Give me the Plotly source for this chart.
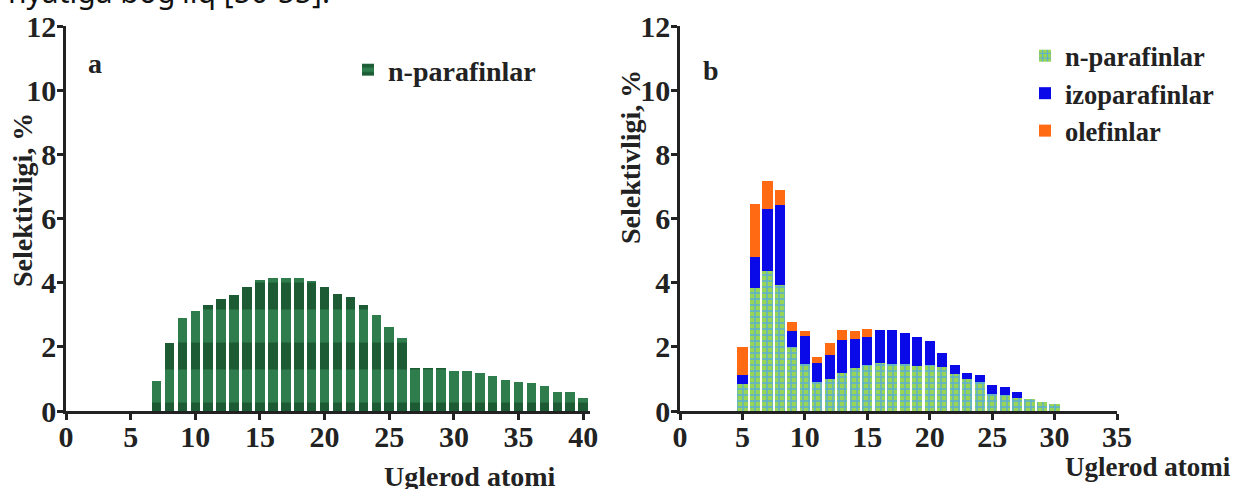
import plotly.graph_objects as go

# ---------------- data ----------------
atoms_a = list(range(7, 41))
npar_a = [0.93, 2.13, 2.90, 3.11, 3.29, 3.48, 3.63, 3.86, 4.07, 4.14, 4.14, 4.14,
          4.05, 3.86, 3.66, 3.55, 3.30, 2.98, 2.62, 2.26, 1.33, 1.33, 1.33, 1.25,
          1.25, 1.17, 1.09, 0.97, 0.91, 0.86, 0.78, 0.60, 0.60, 0.41]

atoms_b = list(range(5, 31))
npar_b = [0.84, 3.84, 4.36, 3.93, 1.98, 1.48, 0.89, 0.99, 1.17, 1.33, 1.44, 1.50,
          1.48, 1.45, 1.41, 1.42, 1.36, 1.16, 0.99, 0.90, 0.54, 0.51, 0.40, 0.37,
          0.29, 0.22]
izo_b = [0.29, 0.97, 1.94, 2.50, 0.52, 0.86, 0.60, 0.76, 1.05, 0.90, 0.86, 1.04,
         1.05, 0.98, 0.89, 0.75, 0.44, 0.28, 0.20, 0.22, 0.27, 0.25, 0.18, 0.0,
         0.0, 0.0]
ole_b = [0.88, 1.64, 0.88, 0.47, 0.28, 0.15, 0.18, 0.37, 0.30, 0.26, 0.25, 0.0,
         0.0, 0.0, 0.0, 0.0, 0.0, 0.0, 0.0, 0.0, 0.0, 0.0, 0.0, 0.0, 0.0, 0.0]

x_ticks_a = [0, 5, 10, 15, 20, 25, 30, 35, 40]
x_ticks_b = [0, 5, 10, 15, 20, 25, 30, 35]
y_ticks = [0, 2, 4, 6, 8, 10, 12]

# ---------------- figure ----------------
W, H = 1237, 489
SERIF = "Liberation Serif"
INK = "#222222"


def px_x(p):
    return p / W


def px_y(p):
    return 1 - p / H


fig = go.Figure()

fig.add_trace(go.Bar(
    x=atoms_a, y=npar_a, name="n-parafinlar", width=0.74,
    marker=dict(color="#2f7d4c", line=dict(width=0),
                pattern=dict(shape="-", fgcolor="#0c3a1e", size=60,
                             solidity=0.45, fillmode="overlay")),
    xaxis="x", yaxis="y", legend="legend",
))

fig.add_trace(go.Bar(
    x=atoms_b, y=npar_b, name="n-parafinlar", width=0.82,
    marker=dict(line=dict(width=0),
                pattern=dict(shape="+", bgcolor="#98d455", fgcolor="#5aaed6",
                             size=6, solidity=0.4, fillmode="replace")),
    xaxis="x2", yaxis="y2", legend="legend2",
))
fig.add_trace(go.Bar(
    x=atoms_b, y=izo_b, name="izoparafinlar", width=0.82,
    marker=dict(color="#0a0ae8", line=dict(width=0)),
    xaxis="x2", yaxis="y2", legend="legend2",
))
fig.add_trace(go.Bar(
    x=atoms_b, y=ole_b, name="olefinlar", width=0.82,
    marker=dict(color="#ff6a12", line=dict(width=0)),
    xaxis="x2", yaxis="y2", legend="legend2",
))

axis_common = dict(
    showgrid=False, zeroline=False, showline=True, linecolor=INK,
    linewidth=2.5, ticks="outside", ticklen=6, tickwidth=2.5,
    tickcolor=INK, automargin=False,
    tickfont=dict(family=SERIF, size=30, color=INK, weight="bold"),
)

yd = [px_y(411), px_y(26)]

fig.update_layout(
    width=W, height=H,
    margin=dict(l=0, r=0, t=0, b=0),
    paper_bgcolor="white", plot_bgcolor="white",
    barmode="stack", bargap=0,
    showlegend=True,
    xaxis=dict(axis_common, domain=[px_x(66), px_x(66 + 40.5 * 12.93)],
               range=[0, 40.5], tickvals=x_ticks_a, anchor="y",
               ticklabelstandoff=-9),
    yaxis=dict(axis_common, domain=yd, range=[0, 12], tickvals=y_ticks,
               anchor="x", ticklabelstandoff=-5),
    xaxis2=dict(axis_common, domain=[px_x(680), px_x(1117)],
                range=[0, 35], tickvals=x_ticks_b, anchor="y2",
                ticklabelstandoff=-9),
    yaxis2=dict(axis_common, domain=yd, range=[0, 12], tickvals=y_ticks,
                anchor="x2", ticklabelstandoff=-5),
    legend=dict(x=px_x(348), y=px_y(45), xanchor="left", yanchor="top",
                bgcolor="rgba(0,0,0,0)",
                font=dict(family=SERIF, size=28, color=INK, weight="bold"),
                itemwidth=30),
    legend2=dict(x=px_x(1025), y=px_y(32), xanchor="left", yanchor="top",
                 bgcolor="rgba(0,0,0,0)", traceorder="normal",
                 font=dict(family=SERIF, size=26.5, color=INK, weight="bold"),
                 itemwidth=30),
)

ann_font = dict(family=SERIF, size=28, color=INK, weight="bold")


def label(x, y, text, angle=0, size=28, xanchor="center"):
    fig.add_annotation(x=px_x(x), y=px_y(y), xref="paper", yref="paper",
                       xanchor=xanchor, yanchor="middle",
                       text=text, textangle=angle, showarrow=False,
                       font=dict(ann_font, size=size))


label(22, 200, "Selektivligi, %", -90)
label(630, 157, "Selektivligi, %", -90)
label(470, 476, "Uglerod atomi")
label(1233, 467, "Uglerod atomi", size=27, xanchor="right")
label(95, 63, "a")
label(711, 70, "b")

fig.add_annotation(x=px_x(332), y=px_y(14), xref="paper", yref="paper",
                   xanchor="right", yanchor="bottom",
                   text="nyatiga bog'liq [50-55].", showarrow=False,
                   font=dict(family="Noto Sans", size=30, color="#111111"))

fig.write_html("out.html",
               config={"displayModeBar": False},
               post_script="document.body.style.margin='0';"
                           "document.body.style.overflow='hidden';")
